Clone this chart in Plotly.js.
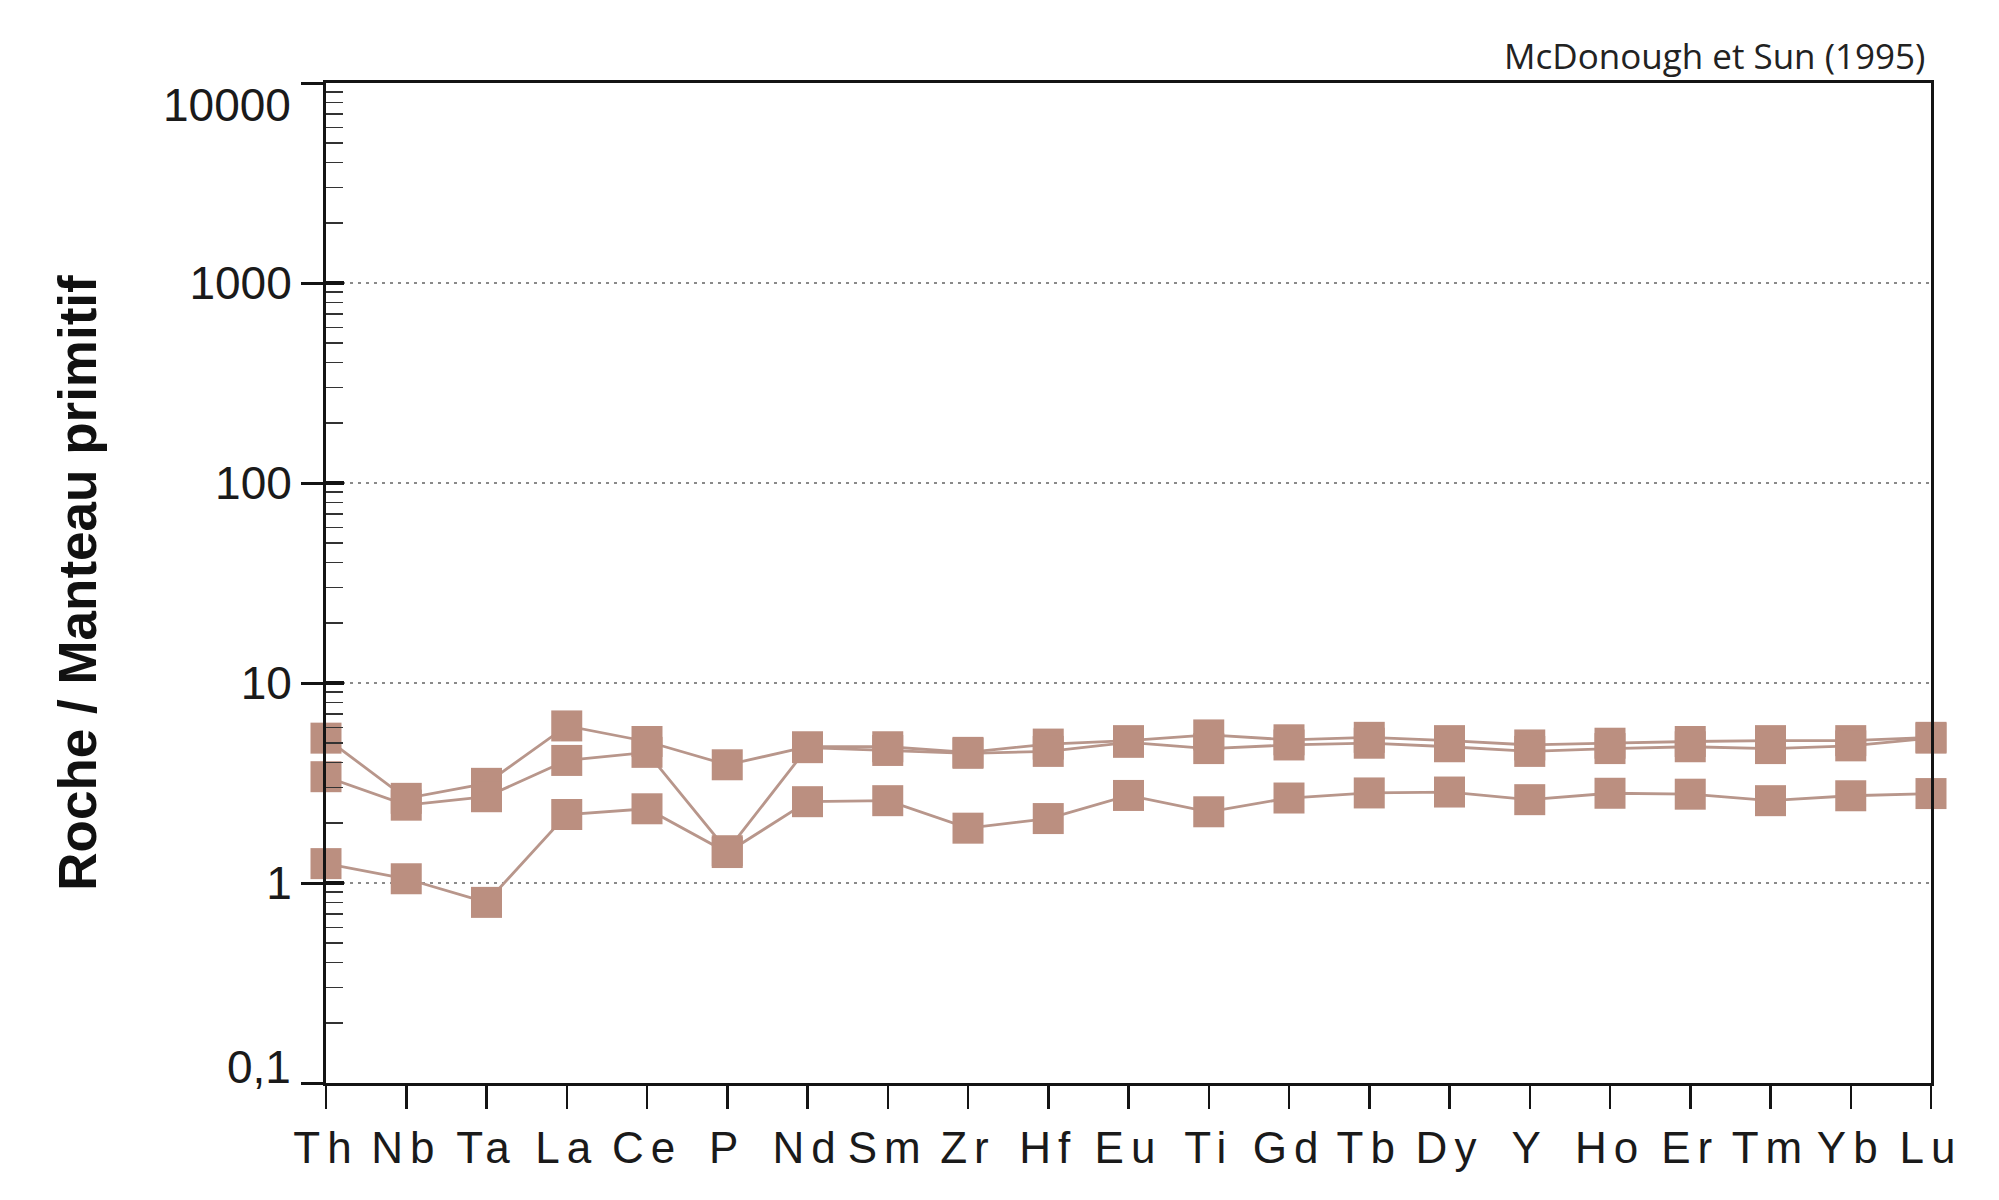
<!DOCTYPE html>
<html>
<head>
<meta charset="utf-8">
<script src="https://cdn.plot.ly/plotly-3.0.1.min.js"></script>
<style>
  html, body { margin: 0; padding: 0; background: #ffffff; }
  #chart { width: 1999px; height: 1200px; }
  g.xtick text { letter-spacing: 7px; }
</style>
</head>
<body>
<div id="chart"></div>
<script>
// ---- data (normalised to primitive mantle) ----
const elements = ['Th','Nb','Ta','La','Ce','P','Nd','Sm','Zr','Hf','Eu','Ti','Gd','Tb','Dy','Y','Ho','Er','Tm','Yb','Lu'];
const sampleA = [5.3, 2.65, 3.15, 6.1, 5.1, 3.9, 4.8, 4.8, 4.5, 4.95, 5.15, 5.5, 5.2, 5.35, 5.15, 4.9, 5.0, 5.1, 5.15, 5.15, 5.35];
const sampleB = [3.4, 2.45, 2.7, 4.1, 4.5, 1.45, 4.75, 4.6, 4.45, 4.55, 5.05, 4.7, 4.9, 5.0, 4.8, 4.55, 4.7, 4.8, 4.7, 4.85, 5.3];
const sampleC = [1.25, 1.05, 0.8, 2.2, 2.35, 1.42, 2.55, 2.58, 1.88, 2.1, 2.74, 2.27, 2.66, 2.82, 2.85, 2.61, 2.81, 2.78, 2.58, 2.73, 2.8];
const yTickVals = [0.1, 1, 10, 100, 1000, 10000];
const yTickText = ['0,1', '1', '10', '100', '1000', '10000'];
const yTitle = 'Roche / Manteau primitif';
const sourceNote = 'McDonough et Sun (1995)';

// ---- styling ----
const markerColor = '#bb8f80';
const lineColor = '#b8968b';
const axisColor = '#141414';
const textFont = 'Liberation Sans, Arial, sans-serif';
const xIdx = elements.map((_, i) => i);
const samples = [sampleA, sampleB, sampleC];

const traces = [];
samples.forEach(s => traces.push({
  type: 'scatter', mode: 'lines', x: xIdx, y: s, yaxis: 'y',
  line: { color: lineColor, width: 2.8 }, hoverinfo: 'skip', cliponaxis: false, showlegend: false
}));
samples.forEach(s => traces.push({
  type: 'scatter', mode: 'markers', x: xIdx, y: s, yaxis: 'y2',
  marker: { symbol: 'square', size: 31, color: markerColor, line: { width: 0 } },
  hoverinfo: 'skip', cliponaxis: false, showlegend: false
}));

// minor ticks 2..9 in every decade
const minorVals = [];
for (let d = -1; d < 4; d++) for (let k = 2; k <= 9; k++) minorVals.push(k * Math.pow(10, d));

const layout = {
  width: 1999, height: 1200,
  margin: { l: 326, r: 68, t: 83, b: 117, pad: 0 },
  paper_bgcolor: '#ffffff', plot_bgcolor: '#ffffff',
  showlegend: false,
  xaxis: {
    range: [0, 20], tickmode: 'array', tickvals: xIdx, ticktext: elements,
    ticks: 'outside', ticklen: 23, tickwidth: 2.5, tickcolor: axisColor,
    showline: true, linewidth: 3, linecolor: axisColor, mirror: true,
    showgrid: false, zeroline: false,
    tickfont: { family: textFont, size: 44, color: '#1a1a1a' },
    ticklabelstandoff: 1
  },
  yaxis: {
    type: 'log', range: [-1, 4], tickmode: 'array', tickvals: yTickVals,
    ticktext: yTickText.map((t, i) => (i === 0 || i === yTickText.length - 1) ? '' : t),
    ticks: 'outside', ticklen: 22, tickwidth: 3, tickcolor: axisColor,
    showline: true, linewidth: 3, linecolor: axisColor, mirror: true,
    showgrid: true, gridcolor: '#8a8a8a', gridwidth: 1.5, griddash: '3px,5px',
    zeroline: false,
    tickfont: { family: textFont, size: 46, color: '#1a1a1a' },
    ticklabelstandoff: 0,
    minor: { tickmode: 'array', tickvals: minorVals, ticks: 'inside', ticklen: 17, tickwidth: 1.6, tickcolor: '#333333', showgrid: false },
    title: { text: yTitle, font: { family: textFont, size: 53, weight: 700, color: '#111111' }, standoff: 76 }
  },
  yaxis2: {
    type: 'log', range: [-1, 4], overlaying: 'y', side: 'left',
    tickmode: 'array', tickvals: yTickVals.slice(1),
    ticks: 'inside', ticklen: 18, tickwidth: 4, tickcolor: axisColor,
    showticklabels: false, showgrid: false, showline: false, zeroline: false
  },
  annotations: [
    { text: yTickText[0], xref: 'paper', x: 0, xanchor: 'right', xshift: -33,
      yref: 'y', y: Math.log10(yTickVals[0]), yanchor: 'middle', yshift: 16, showarrow: false,
      font: { family: textFont, size: 46, color: '#1a1a1a' } },
    { text: yTickText[yTickText.length - 1], xref: 'paper', x: 0, xanchor: 'right', xshift: -33,
      yref: 'y', y: Math.log10(yTickVals[yTickVals.length - 1]), yanchor: 'middle', yshift: -22, showarrow: false,
      font: { family: textFont, size: 46, color: '#1a1a1a' } },
    { text: sourceNote, xref: 'paper', x: 1, xanchor: 'right', xshift: -4,
      yref: 'paper', y: 1, yanchor: 'bottom', yshift: 2, showarrow: false,
      font: { family: 'Open Sans, sans-serif', size: 35, color: '#222222' } }
  ]
};

Plotly.newPlot('chart', traces, layout, { staticPlot: true, displayModeBar: false });
</script>
</body>
</html>
